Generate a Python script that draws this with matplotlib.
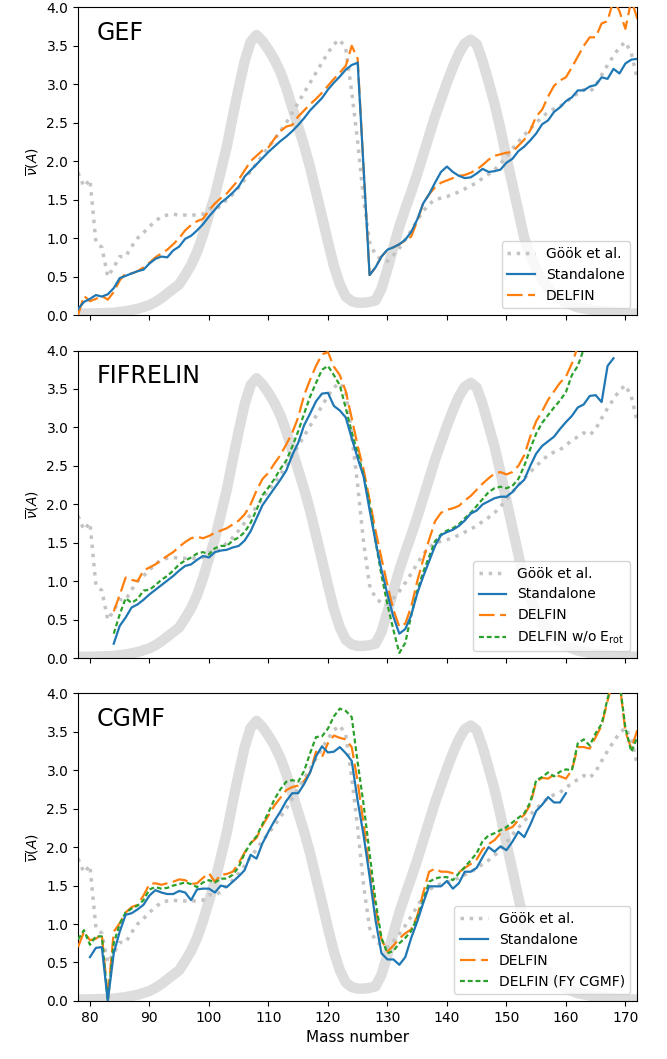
import numpy as np
import matplotlib
matplotlib.use('Agg')
import matplotlib.pyplot as plt

# ---------------------------------------------------------------
# data
# ---------------------------------------------------------------
yield_A = [78, 80, 84, 86, 88, 90, 91, 92, 93, 94, 95, 96, 97, 98, 99, 100,
           101, 102, 103, 104, 105, 106, 107, 108, 109, 110, 111, 112, 113,
           114, 115, 116, 117, 118, 119, 120, 121, 122, 123, 124, 125, 126,
           127, 128, 129, 130, 131, 132, 133, 134, 135, 136, 137, 138, 139,
           140, 141, 142, 143, 144, 145, 146, 147, 148, 149, 150, 151, 152,
           153, 154, 155, 156, 157, 158, 159, 160, 162, 164, 166, 168, 170, 172]
yield_scaled = [0.02, 0.02, 0.03, 0.05, 0.08, 0.13, 0.17, 0.22, 0.28, 0.34, 0.40,
                0.52, 0.65, 0.82, 1.04, 1.30, 1.55, 1.87, 2.19, 2.58, 2.95, 3.30,
                3.55, 3.64, 3.56, 3.45, 3.32, 3.16, 2.95, 2.70, 2.45, 2.20, 1.92,
                1.60, 1.28, 0.95, 0.64, 0.40, 0.24, 0.18, 0.16, 0.16, 0.17, 0.19,
                0.34, 0.60, 0.88, 1.15, 1.38, 1.60, 1.83, 2.08, 2.33, 2.58, 2.80,
                3.02, 3.22, 3.40, 3.53, 3.58, 3.52, 3.30, 3.03, 2.75, 2.42, 2.05,
                1.70, 1.35, 1.00, 0.78, 0.60, 0.46, 0.36, 0.27, 0.21, 0.16, 0.10,
                0.07, 0.05, 0.03, 0.02, 0.02]

gook_A = list(range(78, 173))
gook_nu = [1.85, 1.67, 1.76, 0.95, 0.88, 0.50, 0.62, 0.76, 0.76, 0.89, 1.00,
           1.07, 1.15, 1.22, 1.28, 1.30, 1.31, 1.30, 1.30, 1.30, 1.30, 1.31,
           1.38, 1.37, 1.42, 1.50, 1.57, 1.66, 1.76, 1.87, 1.97, 2.08, 2.18,
           2.28, 2.39, 2.50, 2.63, 2.76, 2.89, 3.02, 3.15, 3.28, 3.41, 3.52,
           3.58, 3.46, 2.90, 2.25, 1.50, 0.95, 0.78, 0.72, 0.70, 0.78, 0.87,
           0.98, 1.10, 1.23, 1.35, 1.44, 1.50, 1.52, 1.54, 1.57, 1.60, 1.64,
           1.68, 1.72, 1.78, 1.83, 1.89, 1.97, 2.06, 2.16, 2.25, 2.34, 2.42,
           2.50, 2.57, 2.64, 2.68, 2.71, 2.77, 2.83, 2.88, 2.93, 2.90, 2.98,
           3.12, 3.25, 3.37, 3.48, 3.55, 3.40, 3.07]

# GEF
gef_A = list(range(78, 173))
gef_std = [0.08, 0.17, 0.21, 0.26, 0.24, 0.27, 0.35, 0.48, 0.51, 0.54, 0.57,
           0.59, 0.67, 0.73, 0.76, 0.75, 0.84, 0.89, 0.99, 1.03, 1.10, 1.18,
           1.28, 1.37, 1.46, 1.52, 1.59, 1.67, 1.80, 1.88, 1.96, 2.04, 2.12,
           2.19, 2.26, 2.32, 2.39, 2.47, 2.56, 2.66, 2.74, 2.82, 2.93, 3.02,
           3.10, 3.19, 3.25, 3.28, 1.90, 0.52, 0.62, 0.76, 0.85, 0.88, 0.92,
           0.98, 1.08, 1.24, 1.45, 1.57, 1.72, 1.86, 1.93, 1.86, 1.81, 1.78,
           1.79, 1.84, 1.90, 1.86, 1.87, 1.89, 1.98, 2.03, 2.13, 2.19, 2.27,
           2.36, 2.48, 2.53, 2.64, 2.70, 2.78, 2.83, 2.92, 2.92, 2.97, 2.99,
           3.09, 3.07, 3.20, 3.14, 3.27, 3.32, 3.33]
gef_delfin = [0.00, 0.25, 0.18, 0.21, 0.25, 0.20, 0.30, 0.45, 0.54, 0.54, 0.57,
              0.62, 0.68, 0.75, 0.80, 0.85, 0.92, 1.00, 1.10, 1.17, 1.22, 1.25,
              1.36, 1.45, 1.52, 1.58, 1.67, 1.76, 1.88, 2.00, 2.07, 2.14, 2.18,
              2.29, 2.39, 2.45, 2.47, 2.58, 2.66, 2.74, 2.81, 2.89, 2.98, 3.07,
              3.15, 3.24, 3.50, 3.33, 1.90, 0.52, 0.62, 0.76, 0.85, 0.88, 0.92,
              0.97, 1.02, 1.22, 1.45, 1.57, 1.66, 1.72, 1.75, 1.78, 1.81, 1.82,
              1.85, 1.89, 1.95, 2.02, 2.07, 2.09, 2.11, 2.12, 2.20, 2.28, 2.40,
              2.58, 2.67, 2.84, 2.98, 3.05, 3.09, 3.22, 3.36, 3.50, 3.61, 3.61,
              3.79, 3.82, 4.10, 3.95, 3.72, 4.10, 3.85]

# FIFRELIN
fif_std_A = list(range(84, 169))
fif_std = [0.19, 0.42, 0.53, 0.66, 0.70, 0.76, 0.83, 0.89, 0.95, 1.01, 1.07,
           1.14, 1.20, 1.22, 1.28, 1.33, 1.31, 1.38, 1.40, 1.41, 1.44, 1.46,
           1.53, 1.65, 1.82, 1.99, 2.10, 2.21, 2.32, 2.44, 2.64, 2.80, 3.03,
           3.18, 3.34, 3.44, 3.45, 3.28, 3.22, 3.13, 2.86, 2.60, 2.36, 1.93,
           1.52, 1.15, 0.83, 0.54, 0.32, 0.38, 0.56, 0.84, 1.06, 1.26, 1.46,
           1.60, 1.64, 1.67, 1.72, 1.79, 1.88, 1.92, 2.00, 2.04, 2.08, 2.10,
           2.10, 2.16, 2.25, 2.32, 2.50, 2.66, 2.76, 2.82, 2.88, 2.98, 3.07,
           3.15, 3.26, 3.30, 3.41, 3.42, 3.33, 3.80, 3.90]
fif_delfin_A = list(range(84, 164))
fif_delfin = [0.61, 0.82, 1.05, 1.02, 1.00, 1.14, 1.18, 1.22, 1.28, 1.33, 1.38,
              1.45, 1.51, 1.56, 1.58, 1.56, 1.59, 1.63, 1.66, 1.69, 1.74, 1.79,
              1.87, 2.00, 2.18, 2.33, 2.41, 2.53, 2.64, 2.78, 2.93, 3.13, 3.42,
              3.62, 3.80, 3.95, 3.98, 3.79, 3.68, 3.47, 3.12, 2.76, 2.45, 2.06,
              1.66, 1.30, 0.95, 0.63, 0.41, 0.45, 0.67, 1.00, 1.28, 1.54, 1.78,
              1.89, 1.93, 1.95, 1.98, 2.05, 2.11, 2.19, 2.27, 2.34, 2.40, 2.42,
              2.39, 2.42, 2.50, 2.64, 2.88, 3.08, 3.21, 3.36, 3.47, 3.58, 3.66,
              3.83, 4.05, 4.25]
fif_norot_A = list(range(84, 165))
fif_norot = [0.32, 0.57, 0.78, 0.72, 0.77, 0.88, 0.89, 0.95, 1.02, 1.07, 1.14,
             1.22, 1.27, 1.31, 1.36, 1.38, 1.35, 1.43, 1.46, 1.46, 1.53, 1.57,
             1.64, 1.76, 1.93, 2.12, 2.22, 2.33, 2.46, 2.57, 2.75, 2.95, 3.18,
             3.40, 3.58, 3.75, 3.80, 3.68, 3.55, 3.25, 2.94, 2.66, 2.38, 2.00,
             1.52, 1.08, 0.70, 0.37, 0.07, 0.20, 0.56, 0.87, 1.12, 1.32, 1.52,
             1.61, 1.66, 1.69, 1.74, 1.82, 1.89, 1.98, 2.07, 2.16, 2.21, 2.23,
             2.21, 2.24, 2.33, 2.50, 2.72, 2.92, 3.06, 3.16, 3.26, 3.35, 3.46,
             3.68, 3.80, 4.02, 4.20]

# CGMF
cgmf_std_A = list(range(80, 161))
cgmf_std = [0.57, 0.69, 0.70, 0.00, 0.62, 0.90, 1.12, 1.14, 1.19, 1.25, 1.37,
            1.44, 1.41, 1.39, 1.39, 1.43, 1.41, 1.31, 1.45, 1.46, 1.46, 1.41,
            1.50, 1.48, 1.55, 1.62, 1.70, 1.90, 1.85, 2.05, 2.20, 2.34, 2.46,
            2.60, 2.70, 2.70, 2.82, 2.97, 3.18, 3.31, 3.23, 3.24, 3.30, 3.22,
            3.12, 2.60, 2.15, 1.62, 1.05, 0.62, 0.54, 0.54, 0.47, 0.57, 0.82,
            1.03, 1.27, 1.49, 1.49, 1.49, 1.56, 1.46, 1.53, 1.68, 1.68, 1.73,
            1.87, 2.00, 1.94, 2.01, 1.96, 2.07, 2.20, 2.13, 2.29, 2.47, 2.55,
            2.65, 2.58, 2.58, 2.70]
cgmf_A = list(range(78, 173))
cgmf_delfin = [0.70, 0.90, 0.79, 0.81, 0.86, 0.05, 0.90, 1.01, 1.15, 1.22, 1.25,
               1.37, 1.52, 1.53, 1.51, 1.53, 1.55, 1.58, 1.57, 1.52, 1.53, 1.60,
               1.66, 1.55, 1.64, 1.65, 1.68, 1.79, 1.93, 2.05, 2.12, 2.28, 2.41,
               2.54, 2.64, 2.74, 2.78, 2.80, 2.86, 2.97, 3.24, 3.17, 3.35, 3.45,
               3.42, 3.40, 3.30, 2.85, 2.30, 1.70, 1.20, 0.80, 0.64, 0.72, 0.81,
               0.88, 0.93, 1.10, 1.40, 1.68, 1.72, 1.68, 1.68, 1.66, 1.67, 1.73,
               1.78, 1.84, 1.97, 2.04, 2.09, 2.18, 2.23, 2.26, 2.35, 2.42, 2.55,
               2.85, 2.90, 2.89, 2.94, 2.92, 2.89, 3.00, 3.30, 3.30, 3.28, 3.43,
               3.58, 3.90, 4.20, 4.15, 3.50, 3.28, 3.52]
cgmf_fy = [0.80, 0.92, 0.73, 0.84, 0.84, 0.00, 0.75, 1.00, 1.15, 1.20, 1.24,
           1.31, 1.45, 1.48, 1.46, 1.47, 1.50, 1.52, 1.54, 1.52, 1.48, 1.54,
           1.57, 1.54, 1.59, 1.59, 1.64, 1.74, 1.92, 2.05, 2.14, 2.30, 2.45,
           2.62, 2.75, 2.85, 2.87, 2.85, 2.99, 3.22, 3.43, 3.44, 3.54, 3.70,
           3.80, 3.77, 3.69, 3.10, 2.55, 1.92, 1.30, 0.82, 0.62, 0.65, 0.75,
           0.82, 0.91, 1.08, 1.30, 1.55, 1.59, 1.61, 1.61, 1.57, 1.66, 1.74,
           1.83, 1.92, 2.08, 2.15, 2.18, 2.22, 2.26, 2.32, 2.38, 2.44, 2.58,
           2.87, 2.91, 2.97, 2.92, 2.98, 3.01, 3.00, 3.35, 3.40, 3.32, 3.48,
           3.60, 3.93, 4.20, 4.15, 3.55, 3.24, 3.43]

panel_names = ['GEF', 'FIFRELIN', 'CGMF']

# ---------------------------------------------------------------
# styles
# ---------------------------------------------------------------
YIELD_KW = dict(color='#dddddd', lw=7.5, solid_capstyle='round', zorder=1)
GOOK_KW = dict(color='#c3c3c3', lw=2.5, ls=':', label='Göök et al.', zorder=2)
STD_KW = dict(color='C0', lw=1.6, ls='-', label='Standalone', zorder=4)
DEL_KW = dict(color='C1', lw=1.6, ls=(0, (7, 2.5)), label='DELFIN', zorder=3)
GRN_KW = dict(color='C2', lw=1.6, ls=(0, (2.2, 1.3)), zorder=3)

fig = plt.figure(figsize=(6.67, 10.59), dpi=100)
left, width, height = 0.117, 0.8385, 0.2906
bottoms = [0.7025, 0.3784, 0.0548]
axes = []
for b in bottoms:
    ax = fig.add_axes([left, b, width, height], sharex=axes[0] if axes else None)
    axes.append(ax)

for ax in axes:
    ax.plot(yield_A, yield_scaled, **YIELD_KW)
    ax.plot(gook_A, gook_nu, **GOOK_KW)

axes[0].plot(gef_A, gef_std, **STD_KW)
axes[0].plot(gef_A, gef_delfin, **DEL_KW)

axes[1].plot(fif_std_A, fif_std, **STD_KW)
axes[1].plot(fif_delfin_A, fif_delfin, **DEL_KW)
axes[1].plot(fif_norot_A, fif_norot, label=r'DELFIN w/o E$_{\mathrm{rot}}$', **GRN_KW)

axes[2].plot(cgmf_std_A, cgmf_std, **STD_KW)
axes[2].plot(cgmf_A, cgmf_delfin, **DEL_KW)
axes[2].plot(cgmf_A, cgmf_fy, label='DELFIN (FY CGMF)', **GRN_KW)

for ax, name in zip(axes, panel_names):
    ax.set_xlim(78, 172)
    ax.set_ylim(0, 4)
    ax.set_yticks(np.arange(0, 4.01, 0.5))
    ax.set_ylabel(r'$\overline{\nu}(A)$', fontsize=10)
    ax.tick_params(labelsize=10)
    ax.text(0.034, 0.955, name, transform=ax.transAxes, fontsize=17,
            ha='left', va='top')
    ax.legend(loc='lower right', fontsize=10, framealpha=0.8)

for ax in axes[:2]:
    ax.tick_params(labelbottom=False)
axes[2].set_xticks(np.arange(80, 171, 10))
axes[2].set_xlabel('Mass number', fontsize=11)

fig.savefig('out.png', dpi=100)
